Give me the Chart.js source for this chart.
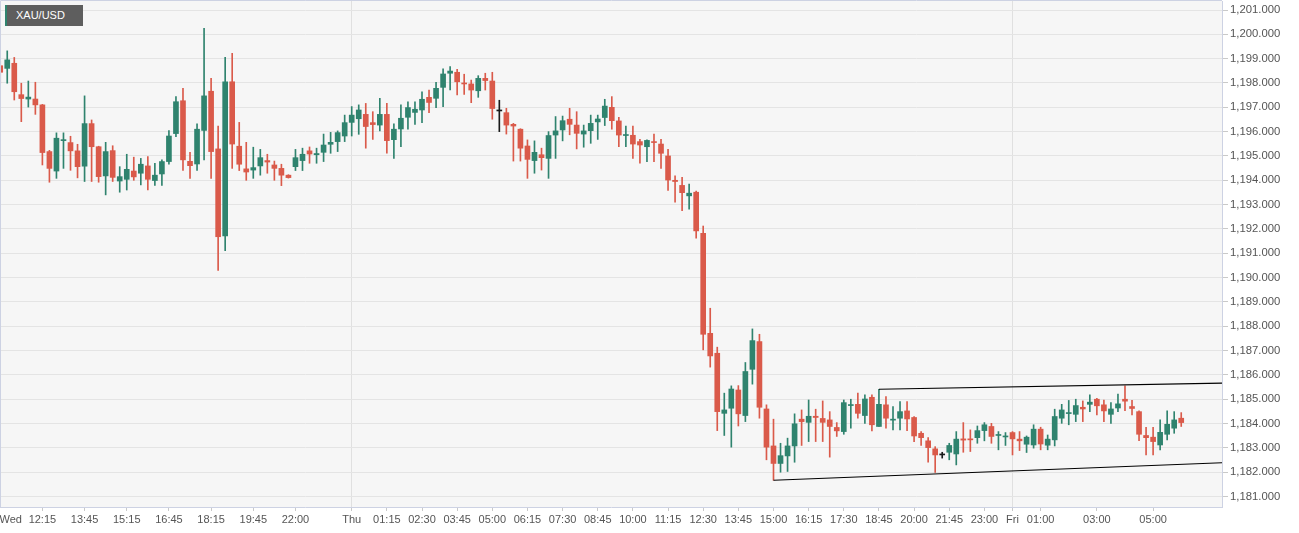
<!DOCTYPE html>
<html>
<head>
<meta charset="utf-8">
<title>XAU/USD</title>
<script src="https://cdn.jsdelivr.net/npm/chart.js@4.4.1/dist/chart.umd.min.js"></script>
<style>
  html, body { margin: 0; padding: 0; background: #fff; }
  #wrap { position: relative; width: 1299px; height: 533px; }
  #symbol {
    position: absolute; left: 5px; top: 5px; width: 78px; height: 21px;
    box-sizing: border-box; padding-left: 9px;
    background: #5e5e5e; border-left: 2px solid #2f836e;
    color: #fff; font: 11px "Liberation Sans", Arial, sans-serif; line-height: 21px;
  }
</style>
</head>
<body>
<div id="wrap">
  <canvas id="chart"></canvas>
  <div id="symbol">XAU/USD</div>
</div>
<script>
// 15-minute candles, Wed 10:45 .. Fri 05:00 (index = candle slot)
const OPEN = [
  1198.71, 1198.60, 1198.81, 1197.52, 1197.34, 1197.34, 1197.10, 1195.18, 1194.38, 1195.63,
  1195.55, 1195.21, 1194.58, 1196.33, 1195.38, 1194.18, 1195.22, 1193.97, 1194.04, 1194.38,
  1194.29, 1194.59, 1193.99, 1194.26, 1194.77, 1195.92, 1197.27, 1194.78, 1194.67, 1196.05,
  1197.66, 1195.29, 1191.71, 1198.05, 1195.40, 1194.47, 1194.42, 1194.59, 1194.81, 1194.63,
  1194.49, 1194.21, 1194.56, 1194.81, 1195.21, 1195.05, 1195.15, 1195.48, 1195.59, 1195.82,
  1196.38, 1196.53, 1196.71, 1196.37, 1196.27, 1196.71, 1195.67, 1196.11, 1196.59, 1196.79,
  1196.89, 1197.41, 1197.37, 1197.82, 1198.40, 1198.44, 1198.00, 1197.96, 1197.68, 1198.19,
  1198.08, 1196.85, 1196.78, 1196.30, 1196.10, 1195.41, 1194.81, 1195.05, 1194.90, 1195.86,
  1196.07, 1196.51, 1196.27, 1195.90, 1196.04, 1196.40, 1196.58, 1197.00, 1196.44, 1195.84,
  1195.85, 1195.59, 1195.38, 1195.59, 1195.49, 1195.00, 1194.00, 1193.79, 1193.36, 1193.51,
  1191.82, 1187.71, 1186.89, 1184.42, 1184.63, 1185.38, 1184.33, 1186.23, 1187.37, 1184.60,
  1183.08, 1182.36, 1182.67, 1183.08, 1184.18, 1184.05, 1184.30, 1184.21, 1184.15, 1183.84,
  1183.67, 1184.74, 1184.79, 1184.33, 1185.08, 1183.88, 1184.77, 1184.14, 1184.22, 1184.52,
  1184.25, 1183.60, 1183.29, 1182.96, 1182.71, 1182.82, 1182.75, 1183.37, 1183.37, 1183.42,
  1183.71, 1183.88, 1183.51, 1183.45, 1183.63, 1183.36, 1183.15, 1183.12, 1183.77, 1183.11,
  1183.33, 1184.22, 1184.41, 1184.38, 1184.67, 1184.79, 1185.00, 1184.77, 1184.38, 1184.64,
  1185.00, 1184.70, 1184.49, 1183.51, 1183.44, 1183.12, 1183.56, 1183.81, 1184.22
];
const HIGH = [
  1198.90, 1199.32, 1199.05, 1197.99, 1198.08, 1198.03, 1197.12, 1195.23, 1195.95, 1195.95,
  1195.81, 1195.48, 1197.47, 1196.48, 1195.40, 1195.56, 1195.42, 1194.56, 1195.07, 1194.95,
  1194.90, 1194.97, 1194.70, 1194.84, 1196.04, 1197.44, 1197.78, 1195.15, 1196.32, 1200.25,
  1198.19, 1196.23, 1199.05, 1199.22, 1196.38, 1195.56, 1195.36, 1195.27, 1195.07, 1194.79,
  1194.66, 1194.23, 1195.27, 1195.32, 1195.37, 1195.32, 1195.90, 1195.97, 1196.03, 1196.68,
  1197.03, 1197.10, 1197.16, 1196.82, 1197.37, 1197.16, 1196.32, 1197.10, 1197.23, 1197.23,
  1197.64, 1197.71, 1198.03, 1198.58, 1198.67, 1198.56, 1198.36, 1198.12, 1198.30, 1198.40,
  1198.44, 1197.29, 1196.96, 1196.34, 1196.12, 1195.66, 1195.62, 1195.32, 1196.00, 1196.62,
  1196.64, 1196.96, 1196.82, 1196.27, 1196.68, 1196.68, 1197.33, 1197.44, 1196.59, 1196.23,
  1196.23, 1195.68, 1195.66, 1195.90, 1195.68, 1195.27, 1194.18, 1194.12, 1193.84, 1193.56,
  1192.12, 1188.74, 1187.14, 1185.25, 1185.55, 1185.56, 1186.51, 1187.89, 1187.67, 1184.77,
  1184.18, 1183.19, 1183.40, 1184.40, 1184.56, 1184.97, 1184.59, 1184.93, 1184.49, 1184.04,
  1184.97, 1185.00, 1185.25, 1185.18, 1185.18, 1185.41, 1185.11, 1184.70, 1184.90, 1184.90,
  1184.29, 1183.67, 1183.42, 1183.05, 1182.82, 1183.19, 1183.67, 1184.04, 1183.74, 1183.90,
  1184.04, 1184.01, 1183.67, 1183.63, 1183.67, 1183.67, 1183.49, 1183.95, 1183.85, 1183.53,
  1184.59, 1184.79, 1184.95, 1185.00, 1184.93, 1185.18, 1185.04, 1184.97, 1184.86, 1185.21,
  1185.55, 1184.95, 1184.52, 1183.85, 1183.85, 1184.15, 1184.52, 1184.49, 1184.45
];
const LOW = [
  1197.99, 1197.99, 1197.30, 1196.41, 1197.01, 1196.71, 1194.63, 1193.92, 1194.08, 1194.49,
  1194.41, 1194.10, 1193.95, 1193.95, 1193.92, 1193.40, 1193.95, 1193.51, 1193.60, 1194.00,
  1193.81, 1193.60, 1193.79, 1193.79, 1194.66, 1195.79, 1194.41, 1194.08, 1194.41, 1194.84,
  1194.08, 1190.29, 1191.11, 1194.49, 1194.40, 1194.00, 1194.08, 1194.21, 1194.29, 1194.00,
  1193.78, 1194.09, 1194.40, 1194.40, 1194.70, 1194.70, 1194.77, 1195.11, 1195.18, 1195.59,
  1195.82, 1195.89, 1195.32, 1195.68, 1196.03, 1195.11, 1194.90, 1195.38, 1196.10, 1196.30,
  1196.37, 1196.78, 1196.99, 1197.03, 1197.71, 1197.51, 1197.53, 1197.19, 1197.41, 1197.71,
  1196.51, 1196.00, 1195.90, 1194.79, 1194.79, 1194.08, 1194.29, 1194.42, 1194.08, 1194.90,
  1195.62, 1195.87, 1195.29, 1195.36, 1195.52, 1195.68, 1196.25, 1196.10, 1195.38, 1195.38,
  1194.90, 1194.70, 1194.77, 1194.77, 1194.49, 1193.58, 1193.10, 1192.75, 1192.81, 1191.62,
  1187.03, 1186.32, 1183.71, 1183.51, 1183.03, 1183.90, 1184.08, 1185.62, 1184.22, 1182.51,
  1181.67, 1182.00, 1182.03, 1182.41, 1183.10, 1183.26, 1183.26, 1183.26, 1182.62, 1183.47,
  1183.56, 1183.81, 1184.22, 1184.01, 1183.70, 1183.88, 1183.81, 1183.74, 1183.74, 1183.71,
  1183.26, 1183.10, 1182.41, 1181.99, 1182.58, 1182.51, 1182.30, 1182.82, 1182.85, 1183.19,
  1183.29, 1183.19, 1182.92, 1183.10, 1182.71, 1182.89, 1182.81, 1182.99, 1182.92, 1182.92,
  1183.08, 1184.01, 1183.95, 1184.08, 1184.08, 1184.49, 1184.36, 1184.08, 1184.01, 1184.49,
  1184.53, 1184.36, 1183.30, 1182.71, 1182.71, 1182.92, 1183.33, 1183.60, 1183.88
];
const CLOSE = [
  1198.44, 1198.95, 1197.64, 1197.36, 1197.42, 1197.10, 1195.14, 1194.49, 1195.73, 1195.67,
  1195.21, 1194.56, 1196.33, 1195.38, 1194.15, 1195.18, 1194.12, 1194.15, 1194.45, 1194.14,
  1194.66, 1194.04, 1194.21, 1194.77, 1195.82, 1197.23, 1194.84, 1194.60, 1196.10, 1197.47,
  1195.18, 1191.68, 1198.05, 1195.49, 1194.66, 1194.34, 1194.52, 1194.93, 1194.75, 1194.49,
  1194.21, 1194.11, 1194.93, 1195.07, 1195.08, 1195.10, 1195.45, 1195.56, 1195.96, 1196.37,
  1196.68, 1196.89, 1196.21, 1196.29, 1196.71, 1195.63, 1196.10, 1196.55, 1196.99, 1196.92,
  1197.33, 1197.20, 1197.78, 1198.37, 1198.49, 1198.05, 1197.96, 1197.71, 1198.19, 1198.10,
  1196.95, 1196.85, 1196.27, 1196.23, 1195.32, 1194.86, 1195.15, 1194.93, 1195.84, 1196.03,
  1196.45, 1196.30, 1195.93, 1196.03, 1196.34, 1196.52, 1197.05, 1196.45, 1195.86, 1195.88,
  1195.49, 1195.45, 1195.64, 1195.55, 1195.11, 1194.01, 1193.95, 1193.49, 1193.47, 1191.92,
  1187.67, 1186.78, 1184.49, 1184.56, 1185.42, 1184.40, 1186.14, 1187.41, 1184.67, 1183.03,
  1182.36, 1182.68, 1183.08, 1183.99, 1184.08, 1184.30, 1184.25, 1184.05, 1183.88, 1183.70,
  1184.86, 1184.77, 1184.42, 1185.01, 1183.95, 1184.79, 1184.22, 1184.18, 1184.49, 1184.19,
  1183.49, 1183.42, 1183.01, 1182.71, 1182.71, 1183.10, 1183.36, 1183.32, 1183.33, 1183.71,
  1183.95, 1183.47, 1183.54, 1183.48, 1183.37, 1183.29, 1183.44, 1183.77, 1183.16, 1183.36,
  1184.29, 1184.56, 1184.44, 1184.74, 1184.60, 1184.88, 1184.73, 1184.52, 1184.60, 1184.81,
  1184.92, 1184.62, 1183.56, 1183.42, 1183.26, 1183.64, 1183.97, 1184.15, 1184.04
];

// x axis labels and the candle slot each one sits on
const TICK_LABELS = [
  "Wed", "12:15", "13:45", "15:15", "16:45", "18:15", "19:45", "22:00",
  "Thu", "01:15", "02:30", "03:45", "05:00", "06:15", "07:30", "08:45", "10:00",
  "11:15", "12:30", "13:45", "15:00", "16:15", "17:30", "18:45", "20:00", "21:45", "23:00",
  "Fri", "01:00", "03:00", "05:00"
];
const TICK_SLOTS = [
  1.5, 6, 12, 18, 24, 30, 36, 42,
  50, 55, 60, 65, 70, 75, 80, 85, 90,
  95, 100, 105, 110, 115, 120, 125, 130, 135, 140,
  144, 148, 156, 164
];
const DAY_LABELS = ["Thu", "Fri"];

// hand-drawn channel: [slot, price]
const UPPER_TREND = [[125, 1185.41], [173.8, 1185.66]];
const LOWER_TREND = [[110, 1181.67], [173.8, 1182.39]];

const UP = "#2f836e";
const DOWN = "#da5a4a";
const FLAT = "#1a1a1a";
const GRID = "#e4e4e4";
const AXIS = "#cdd2e3";
const INK = "#555";
const PLOT_BG = "#f6f6f6";
const FONT = '"Liberation Sans", Arial, sans-serif';

const candleColor = (i) =>
  CLOSE[i] > OPEN[i] ? UP : CLOSE[i] < OPEN[i] ? DOWN : FLAT;

const plotFrame = {
  id: "plotFrame",
  beforeDraw(chart) {
    const { ctx, chartArea: a } = chart;
    ctx.save();
    ctx.fillStyle = PLOT_BG;
    ctx.fillRect(a.left, a.top, a.right - a.left, a.bottom - a.top);
    ctx.restore();
  },
  afterDraw(chart) {
    const { ctx, chartArea: a } = chart;
    ctx.save();
    ctx.strokeStyle = AXIS;
    ctx.lineWidth = 1;
    ctx.beginPath();
    ctx.moveTo(a.left + 0.5, a.bottom);
    ctx.lineTo(a.left + 0.5, a.top - 0.5);
    ctx.lineTo(a.right, a.top - 0.5);
    ctx.stroke();
    ctx.restore();
  },
};

const dropPadding = (scale) => {
  scale.paddingTop = 0;
  scale.paddingBottom = 0;
  scale.paddingLeft = 0;
  scale.paddingRight = 0;
};

new Chart(document.getElementById("chart"), {
  type: "bar",
  data: {
    datasets: [
      {
        type: "line",
        data: UPPER_TREND.map(([x, y]) => ({ x, y })),
        borderColor: "#000",
        borderWidth: 1.2,
        pointRadius: 0,
      },
      {
        type: "line",
        data: LOWER_TREND.map(([x, y]) => ({ x, y })),
        borderColor: "#000",
        borderWidth: 1.2,
        pointRadius: 0,
      },
      {
        // candle bodies
        data: OPEN.map((o, i) => ({ x: i, y: [o, CLOSE[i]] })),
        backgroundColor: (c) => candleColor(c.dataIndex),
        barThickness: 5,
        minBarLength: 1,
        grouped: false,
      },
      {
        // wicks
        data: LOW.map((l, i) => ({ x: i, y: [l, HIGH[i]] })),
        backgroundColor: (c) => candleColor(c.dataIndex),
        barThickness: 1,
        grouped: false,
      },
    ],
  },
  options: {
    animation: false,
    responsive: true,
    maintainAspectRatio: false,
    layout: { padding: { top: 1, left: 0, right: 0, bottom: 0 } },
    plugins: { legend: { display: false }, tooltip: { enabled: false } },
    scales: {
      x: {
        type: "linear",
        min: -0.03,
        max: 173.8,
        offset: false,
        afterBuildTicks: (scale) => {
          scale.ticks = TICK_SLOTS.map((v) => ({ value: v }));
        },
        afterFit: (scale) => {
          dropPadding(scale);
          scale.height = 26;
        },
        ticks: {
          autoSkip: false,
          maxRotation: 0,
          padding: 2,
          color: INK,
          font: { family: FONT, size: 11 },
          callback: (v, i) => TICK_LABELS[i],
        },
        grid: {
          offset: false,
          color: (c) =>
            c.index !== undefined && DAY_LABELS.includes(TICK_LABELS[c.index])
              ? "#e0e0e0"
              : "rgba(0,0,0,0)",
          tickColor: (c) => (c.index === 0 ? "rgba(0,0,0,0)" : "#c9c9c9"),
          tickLength: 4,
        },
        border: { color: AXIS },
      },
      y: {
        position: "right",
        min: 1180.57,
        max: 1201.37,
        afterFit: (scale) => {
          dropPadding(scale);
          scale.width = 77;
        },
        ticks: {
          stepSize: 1,
          includeBounds: false,
          padding: 2,
          color: INK,
          font: { family: FONT, size: 11.3 },
          callback: (v) =>
            v.toLocaleString("en-US", {
              minimumFractionDigits: 3,
              maximumFractionDigits: 3,
            }),
        },
        grid: { color: GRID, tickColor: "#c9c9c9", tickLength: 6 },
        border: { color: AXIS },
      },
    },
  },
  plugins: [plotFrame],
});
</script>
</body>
</html>
